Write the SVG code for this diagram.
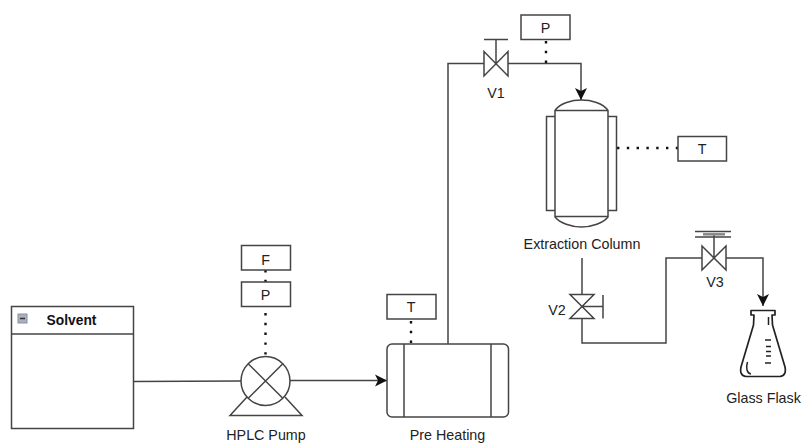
<svg xmlns="http://www.w3.org/2000/svg" width="803" height="443" viewBox="0 0 803 443">
<defs>
<marker id="arr" markerUnits="userSpaceOnUse" markerWidth="13" markerHeight="13" refX="12" refY="6.500" orient="auto"><path d="M0 0.500L12 6.500L0 12.500L3 6.500Z" fill="#111"/></marker>
</defs>
<style>
.s{fill:none;stroke:#444;stroke-width:1.500}
.b{fill:#fff;stroke:#444;stroke-width:1.500}
.dot{fill:none;stroke:#111;stroke-width:2.400;stroke-dasharray:2.400 7.400}
text{font-family:"Liberation Sans",Arial,sans-serif;font-size:14.300px;fill:#222;text-anchor:middle}
</style>
<rect width="803" height="443" fill="#fff"/>
<g id="connectors">
<path class="s" d="M133 381.500L241.500 381"/>
<path class="s" d="M290 380.500H387" marker-end="url(#arr)"/>
<path class="s" d="M448 344V63.500H484"/>
<path class="s" d="M508 63.500H581V100" marker-end="url(#arr)"/>
<path class="s" d="M582 258V294"/>
<path class="s" d="M582 319V343H666V258H702"/>
<path class="s" d="M726 258H763V306" marker-end="url(#arr)"/>
<path class="dot" d="M265.500 270V282"/>
<path class="dot" d="M265.500 313V356"/>
<path class="dot" d="M411 321V344"/>
<path class="dot" d="M546 41V64"/>
<path class="dot" d="M617 148H678"/>
</g>
<g id="solvent">
<rect class="b" x="11.500" y="306.500" width="122" height="122"/>
<path class="s" d="M11.500 334H133.500"/>
<rect x="18" y="314" width="9" height="9" fill="#aab0bc" stroke="#8a90a0" stroke-width="1"/>
<path d="M20 318.500H25" stroke="#333" stroke-width="1.500"/>
<text x="71.500" y="325" style="font-weight:700;font-size:13.800px;fill:#111">Solvent</text>
</g>
<g id="pump">
<path class="s" d="M247 397L230 415.500H302L285 397"/>
<circle class="b" cx="265.500" cy="381" r="24.500"/>
<path class="s" d="M248.200 363.700L282.800 398.300M282.800 363.700L248.200 398.300"/>
<text x="266" y="440">HPLC Pump</text>
</g>
<g id="flow-f"><rect class="b" x="241.500" y="245.500" width="49" height="24.500"/><text x="265.500" y="265">F</text></g>
<g id="pressure-p1"><rect class="b" x="241.500" y="282" width="49" height="24.500"/><text x="265.500" y="300">P</text></g>
<g id="preheating">
<rect class="b" x="387" y="344" width="121.500" height="73" rx="5"/>
<path class="s" d="M404 344V417M491 344V417"/>
<text x="447.500" y="440">Pre Heating</text>
</g>
<g id="temp-t1"><rect class="b" x="387" y="294.500" width="49" height="24.500"/><text x="411" y="312">T</text></g>
<g id="v1">
<path class="s" d="M484 51.500V76L508 51.500V76ZM496 63.500V39.500M484 39.500H508"/>
<text x="496" y="98">V1</text>
</g>
<g id="pressure-p2"><rect class="b" x="521" y="15" width="49" height="24.500"/><text x="545.500" y="33">P</text></g>
<g id="column">
<rect class="b" x="546.500" y="116.500" width="70" height="94"/>
<path class="b" d="M555 110.500C560 103 572 100 581.500 100C591 100 603 103 608 110.500V217C603 223 592 227 581.500 227C571 227 560 223 555 217Z"/>
<path class="s" d="M555 110.500H608M555 216.500H608"/>
<text x="582" y="249">Extraction Column</text>
</g>
<g id="temp-t2"><rect class="b" x="678" y="136.500" width="48.500" height="24.500"/><text x="702" y="154">T</text></g>
<g id="v2">
<path class="s" d="M570 294.500H594L570 318.500H594ZM582 306.500H603M603 295V318.500"/>
<text x="557" y="315">V2</text>
</g>
<g id="v3">
<path class="s" d="M702 246V270L726 246V270ZM714 258V234M695 231.500H731M695 237H731"/>
<path d="M703 234.300H725" stroke="#888" stroke-width="2.500"/>
<text x="715" y="287">V3</text>
</g>
<g id="flask">
<path d="M751 310.500H775V315H772L772.500 325L785 367C786 372 785 376 780 376.500H746C741 376 740 372 741 367L753.500 325L754 315H751Z" fill="#fff" stroke="#222" stroke-width="1.700" stroke-linejoin="round"/>
<path d="M768.500 317V325M765 340H771M766 346.500H771M766 351.500H771M766 356H771M765 363H771" fill="none" stroke="#222" stroke-width="1.500"/>
<path d="M747.500 362C745.500 368 747 373.500 751 374" fill="none" stroke="#222" stroke-width="1.500"/>
<text x="763.500" y="403">Glass Flask</text>
</g>
</svg>
